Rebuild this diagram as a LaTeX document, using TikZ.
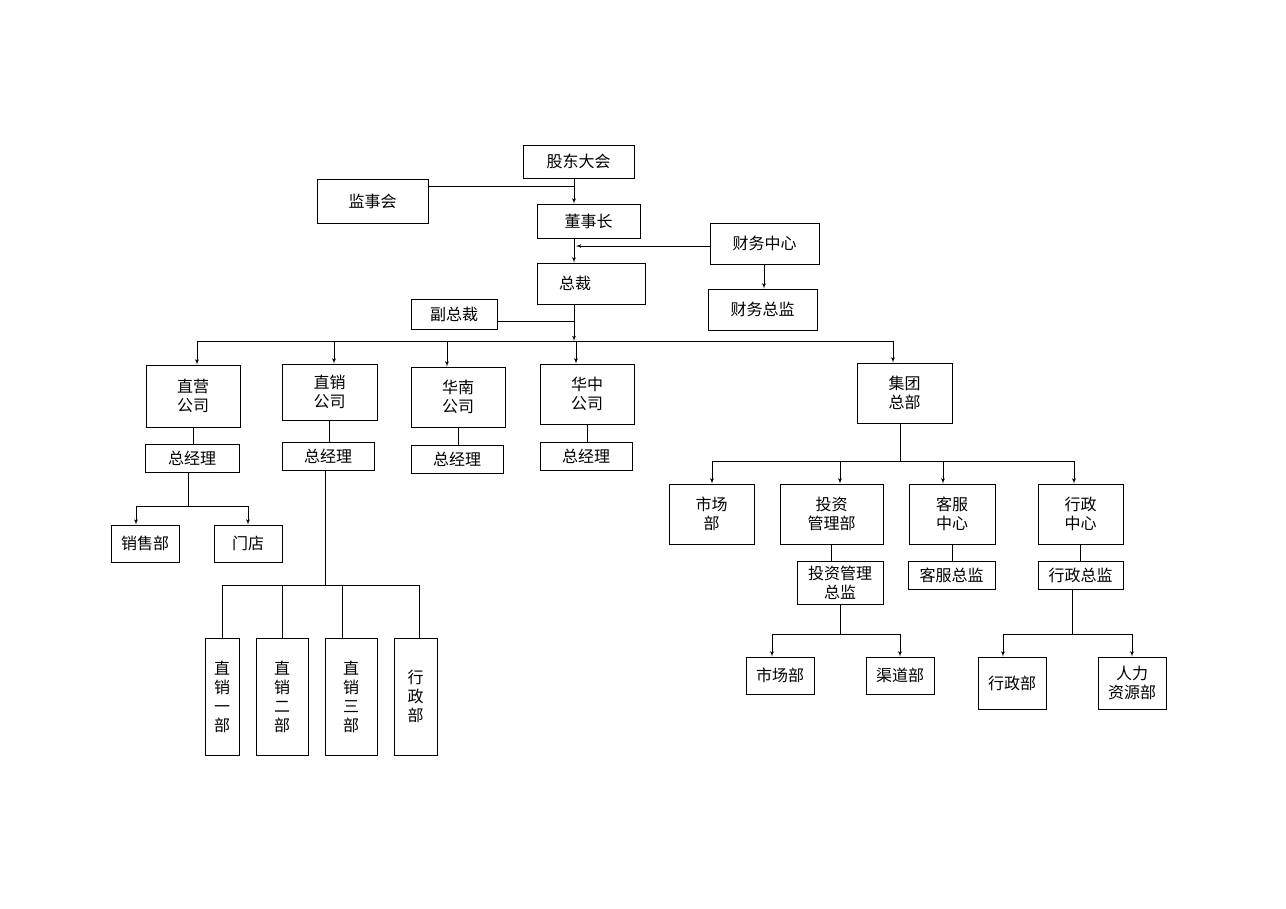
\documentclass[tikz,border=0pt]{standalone}
\usepackage{fontspec}
\setmainfont{Noto Sans CJK SC}
\usetikzlibrary{arrows,positioning}
\tikzstyle{unit}=[draw, thick, inner sep=0pt, align=center, font=\fontsize{16}{19}\selectfont]
\tikzstyle{line}=[draw, thick, -latex']
\tikzstyle{link}=[draw, thick]
% box from its corners: name, x1, y1, x2, y2, text
\newcommand{\unitbox}[6]{%
  \node[unit, minimum width={#4pt-#2pt}, minimum height={#5pt-#3pt}]
    (#1) at ({(#2+#4)/2},{(#3+#5)/2}) {#6};}

\begin{document}
\begin{tikzpicture}[x=1pt,y=-1pt]
  \useasboundingbox (0,0) rectangle (1286,909);

  % Draw top levels
  \unitbox{gd}{523}{145}{634}{178}{股东大会}
  \unitbox{jsh}{317}{179}{428}{223}{监事会}
  \unitbox{dsz}{537}{204}{640}{238}{董事长}
  \unitbox{cwzx}{710}{223}{819}{264}{财务中心}
  \unitbox{zc}{537}{263}{645}{304}{总裁\hspace{2em}}
  \unitbox{cwzj}{708}{289}{817}{330}{财务总监}
  \unitbox{fzc}{411}{299}{497}{329}{副总裁}

  % Draw companies
  \unitbox{zy}{146}{365}{240}{427}{直营\\公司}
  \unitbox{zx}{282}{364}{377}{420}{直销\\公司}
  \unitbox{hn}{411}{367}{505}{427}{华南\\公司}
  \unitbox{hz}{540}{364}{634}{424}{华中\\公司}
  \unitbox{jt}{857}{363}{952}{423}{集团\\总部}
  \unitbox{gm1}{145}{444}{239}{472}{总经理}
  \unitbox{gm2}{282}{442}{374}{470}{总经理}
  \unitbox{gm3}{411}{445}{503}{473}{总经理}
  \unitbox{gm4}{540}{442}{632}{470}{总经理}

  % Draw departments
  \unitbox{xs}{111}{525}{179}{562}{销售部}
  \unitbox{md}{214}{525}{282}{562}{门店}
  \unitbox{zx1}{205}{638}{239}{755}{直\\销\\一\\部}
  \unitbox{zx2}{256}{638}{308}{755}{直\\销\\二\\部}
  \unitbox{zx3}{325}{638}{377}{755}{直\\销\\三\\部}
  \unitbox{xzb}{394}{638}{437}{755}{行\\政\\部}
  \unitbox{sc}{669}{484}{754}{544}{市场\\部}
  \unitbox{tz}{780}{484}{883}{544}{投资\\管理部}
  \unitbox{kf}{909}{484}{995}{544}{客服\\中心}
  \unitbox{xzzx}{1038}{484}{1123}{544}{行政\\中心}
  \unitbox{tzzj}{797}{561}{883}{604}{投资管理\\总监}
  \unitbox{kfzj}{908}{561}{995}{589}{客服总监}
  \unitbox{xzzj}{1038}{561}{1123}{589}{行政总监}
  \unitbox{scb}{746}{657}{814}{694}{市场部}
  \unitbox{qd}{866}{657}{934}{694}{渠道部}
  \unitbox{rz}{978}{657}{1046}{709}{行政部}
  \unitbox{rl}{1098}{657}{1166}{709}{人力\\资源部}

  % Bus coordinates
  \coordinate (bus) at (0,341);
  \coordinate (b1) at (0,506);
  \coordinate (b2) at (0,585);
  \coordinate (b3) at (0,461);
  \coordinate (b4) at (0,634);

  % Draw arrows of top levels
  \path [line] (gd.south -| 574,0) -- (dsz.north -| 574,0);
  \path [link] (jsh.east |- 0,186) -- (574,186);
  \path [line] (dsz.south -| 574,0) -- (zc.north -| 574,0);
  \path [line] (cwzx.west |- 0,246) -- (576,246);
  \path [line] (cwzx.south -| 764,0) -- (cwzj.north -| 764,0);
  \path [line] (zc.south -| 574,0) -- (bus -| 574,0);
  \path [link] (fzc.east |- 0,321) -- (574,321);
  \path [link] (bus -| 197,0) -- (bus -| 893,0);
  \foreach \x/\n in {197/zy,334/zx,447/hn,576/hz,893/jt}
    \path [line] (bus -| \x,0) -- (\n.north -| \x,0);

  % Draw links of companies
  \foreach \n/\m in {zy/gm1,zx/gm2,hn/gm3,hz/gm4}
    \path [link] (\n.south) -- (\m.north -| \n.south);
  \path [link] (gm1.south -| 188,0) -- (b1 -| 188,0);
  \path [link] (b1 -| 136,0) -- (b1 -| 248,0);
  \path [line] (b1 -| 136,0) -- (xs.north -| 136,0);
  \path [line] (b1 -| 248,0) -- (md.north -| 248,0);
  \path [link] (gm2.south -| 325,0) -- (b2 -| 325,0);
  \path [link] (b2 -| 222,0) -- (b2 -| 419,0);
  \foreach \x/\n in {222/zx1,282/zx2,342/zx3,419/xzb}
    \path [link] (b2 -| \x,0) -- (\n.north -| \x,0);

  % Draw links of group
  \path [link] (jt.south -| 900,0) -- (b3 -| 900,0);
  \path [link] (b3 -| 712,0) -- (b3 -| 1074,0);
  \foreach \x/\n in {712/sc,840/tz,943/kf,1074/xzzx}
    \path [line] (b3 -| \x,0) -- (\n.north -| \x,0);
  \foreach \n/\m in {tz/tzzj,kf/kfzj,xzzx/xzzj}
    \path [link] (\n.south) -- (\m.north -| \n.south);
  \path [link] (tzzj.south -| 840,0) -- (b4 -| 840,0);
  \path [link] (b4 -| 772,0) -- (b4 -| 900,0);
  \path [line] (b4 -| 772,0) -- (scb.north -| 772,0);
  \path [line] (b4 -| 900,0) -- (qd.north -| 900,0);
  \path [link] (xzzj.south -| 1072,0) -- (b4 -| 1072,0);
  \path [link] (b4 -| 1003,0) -- (b4 -| 1132,0);
  \path [line] (b4 -| 1003,0) -- (rz.north -| 1003,0);
  \path [line] (b4 -| 1132,0) -- (rl.north -| 1132,0);
\end{tikzpicture}
\end{document}
